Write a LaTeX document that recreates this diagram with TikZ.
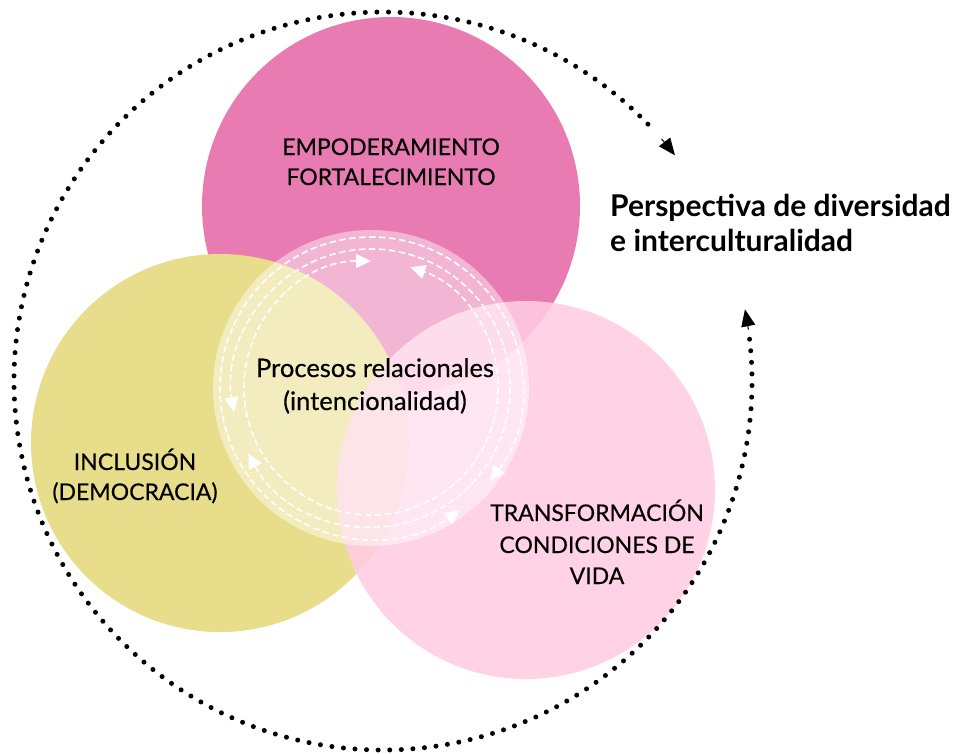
\documentclass[tikz,border=0pt]{standalone}
\usepackage{fontspec}
\setmainfont{Lato}
\newfontfamily\medfont[FakeBold=0.35]{Lato}
\usetikzlibrary{arrows.meta,calc}
\definecolor{pinkA}{HTML}{E87BB2}
\definecolor{yellowB}{HTML}{E8DD8A}
\definecolor{pinkC}{HTML}{FFCCE3}
\begin{document}
\begin{tikzpicture}[x=1pt,y=-1pt,
  disc/.style={circle,inner sep=0pt,minimum size=378pt},
  ring/.style={draw=white,line width=1.6pt,dash pattern=on 6.5pt off 3.5pt,
    {Triangle[length=15pt,width=14pt]}-{Triangle[length=15pt,width=14pt]}},
  dotline/.style={line width=5pt,line cap=round,dash pattern=on 0pt off 11.6pt},
  tipline/.style={line width=1pt,-{Triangle[length=17pt,width=14pt]}},
  caps/.style={font=\medfont\fontsize{23}{27}\selectfont,anchor=base,inner sep=0pt},
  proc/.style={font=\medfont\fontsize{25.5}{29}\selectfont,anchor=base,inner sep=0pt},
  persp/.style={font=\bfseries\fontsize{30}{34}\selectfont,anchor=base west,inner sep=0pt}]
\useasboundingbox (0,0) rectangle (961,753);
\fill[white] (0,0) rectangle (961,753);
\coordinate (Z) at (371,388);
\coordinate (O) at (383,381);
% big discs
\node[disc,fill=pinkA] (emp) at (391,206) {};
\node[disc,fill=yellowB] (inc) at (220,443) {};
\node[disc,fill=pinkC,fill opacity=0.88] (tra) at (526,490) {};
% central translucent disc
\node[circle,inner sep=0pt,minimum size=316pt,fill=white,fill opacity=0.45] (cen) at (Z) {};
% dashed rings with facing arrowheads
\draw[ring] ($(Z)+(90:127pt)$) arc[start angle=90,end angle=432,radius=127pt];
\draw[ring] ($(Z)+(208:139pt)$) arc[start angle=208,end angle=550,radius=139pt];
\draw[ring] ($(Z)+(322:151pt)$) arc[start angle=322,end angle=666,radius=151pt];
% dotted outer arc
\draw[dotline] ($(O)+(6.5:369pt)$) arc[start angle=6.5,end angle=-317.5,radius=369pt];
\draw[tipline] ($(O)+(8:369pt)$) arc[start angle=8,end angle=11.2,radius=369pt];
\draw[tipline] ($(O)+(41:369pt)$) arc[start angle=41,end angle=37.7,radius=369pt];
% labels
\node[caps] (e1) at (391,155) {EMPODERAMIENTO};
\node[caps] (e2) at (391,185) {FORTALECIMIENTO};
\node[caps] (i1) at (135,470) {INCLUSIÓN};
\node[caps] (i2) at (135,500) {(DEMOCRACIA)};
\node[caps] (t1) at (597,521) {TRANSFORMACIÓN};
\node[caps] (t2) at (597,553) {CONDICIONES DE};
\node[caps] (t3) at (597,584) {VIDA};
\node[proc] (p1) at (375,377) {Procesos relacionales};
\node[proc] (p2) at (375,410) {(intencionalidad)};
\node[persp] (s1) at (610,216) {Perspectiva de diversidad};
\node[persp] (s2) at (610,251) {e interculturalidad};
\end{tikzpicture}
\end{document}
